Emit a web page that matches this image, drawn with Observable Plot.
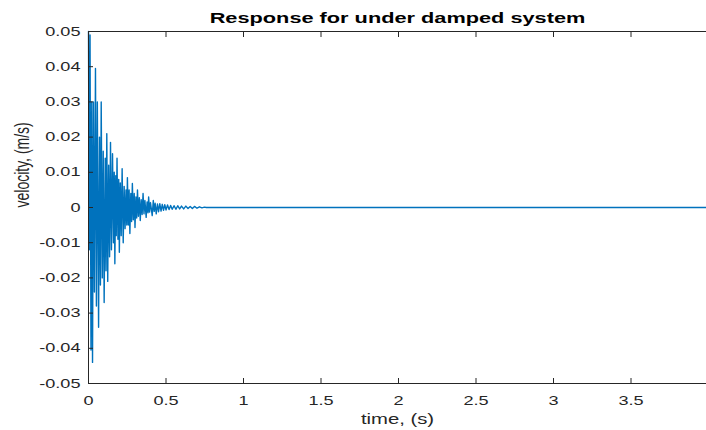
<!DOCTYPE html>
<html>
<head>
<meta charset="utf-8">
<script src="https://cdn.jsdelivr.net/npm/d3@7"></script>
<script src="https://cdn.jsdelivr.net/npm/@observablehq/plot@0.6"></script>
<style>
  html, body { margin: 0; padding: 0; background: #fff; }
  #chart svg { display: block; }
</style>
</head>
<body>
<div id="chart"></div>
<script>
const title = "Response for under damped system";
const xLabel = "time, (s)";
const yLabel = "velocity, (m/s)";
const xTicks = [0, 0.5, 1, 1.5, 2, 2.5, 3, 3.5];
const yTicks = [-0.05, -0.04, -0.03, -0.02, -0.01, 0, 0.01, 0.02, 0.03, 0.04, 0.05];

// time samples (s)
const time = [
  0.000, 0.005, 0.010, 0.016, 0.021, 0.026, 0.032, 0.038, 0.045, 0.051,
  0.057, 0.065, 0.071, 0.077, 0.082, 0.089, 0.095, 0.101, 0.108, 0.113,
  0.118, 0.124, 0.130, 0.136, 0.142, 0.148, 0.155, 0.161, 0.166, 0.170,
  0.176, 0.179, 0.184, 0.190, 0.195, 0.199, 0.205, 0.211, 0.217, 0.224,
  0.230, 0.236, 0.242, 0.247, 0.251, 0.257, 0.262, 0.267, 0.273, 0.278,
  0.283, 0.289, 0.295, 0.300, 0.306, 0.311, 0.316, 0.322, 0.328, 0.334,
  0.340, 0.346, 0.352, 0.358, 0.364, 0.372, 0.378, 0.384, 0.388, 0.394,
  0.400, 0.411, 0.418, 0.424, 0.430, 0.437, 0.445, 0.452, 0.460, 0.468,
  0.476, 0.484, 0.492, 0.500, 0.510, 0.520, 0.530, 0.540, 0.552, 0.564,
  0.576, 0.588, 0.600, 0.614, 0.628, 0.642, 0.656, 0.670, 0.684, 0.700,
  0.716, 0.732, 0.748, 0.760, 4.000
];
// velocity samples (m/s)
const velocity = [
  0.0500, -0.0120, 0.0490, -0.0405, 0.0300, -0.0440, 0.0300, -0.0240, 0.0395, -0.0280,
  0.0300, -0.0340, 0.0200, -0.0220, 0.0300, -0.0200, 0.0160, -0.0270, 0.0140, -0.0180,
  0.0210, -0.0210, 0.0120, -0.0140, 0.0185, -0.0120, 0.0153, -0.0100, 0.0100, -0.0160,
  0.0090, -0.0080, 0.0140, -0.0090, 0.0080, -0.0127, 0.0070, -0.0080, 0.0110, -0.0100,
  0.0060, -0.0060, 0.0050, -0.0050, 0.0085, -0.0050, 0.0050, -0.0074, 0.0040, -0.0040,
  0.0068, -0.0035, 0.0040, -0.0057, 0.0030, -0.0030, 0.0050, -0.0025, 0.0028, -0.0037,
  0.0022, -0.0020, 0.0040, -0.0018, 0.0020, -0.0028, 0.0016, -0.0015, 0.0030, -0.0013,
  0.0014, -0.0023, 0.0020, -0.0011, 0.0012, -0.0018, 0.0010, -0.0012, 0.0011, -0.0010,
  0.0009, -0.0008, 0.0008, -0.0007, 0.0007, -0.0006, 0.0006, -0.0005, 0.0005, -0.0005,
  0.0005, -0.0004, 0.0004, -0.0004, 0.0004, -0.0003, 0.0003, -0.0003, 0.0003, -0.0002,
  0.0002, -0.0001, 0.0001, 0.0000, 0.0000
];

const data = time.map((t, i) => ({t, v: velocity[i]}));
const axisColor = "#262626";
const fmtY = d => d === 0 ? "0" : d.toFixed(2);
const none = () => "";

const chart = Plot.plot({
  width: 706,
  height: 430,
  marginLeft: 88,
  marginRight: 0,
  marginTop: 31,
  marginBottom: 47,
  style: {fontFamily: "'Liberation Sans', Arial, sans-serif", fontSize: "12.5px", color: axisColor, background: "#fff"},
  x: {domain: [0, 4], range: [88, 708], axis: null},
  y: {domain: [-0.05, 0.05], axis: null},
  marks: [
    Plot.line(data, {x: "t", y: "v", stroke: "#0072BD", strokeWidth: 1.4}),
    Plot.frame({stroke: axisColor, strokeWidth: 1}),
    // inward ticks
    Plot.axisX(xTicks, {anchor: "bottom", tickSize: -5, tickFormat: none, label: null, stroke: axisColor}),
    Plot.axisX(xTicks, {anchor: "top", tickSize: -5, tickFormat: none, label: null, stroke: axisColor}),
    Plot.axisY(yTicks, {anchor: "left", tickSize: -5, tickFormat: none, label: null, stroke: axisColor}),
    // tick labels
    Plot.axisX(xTicks, {anchor: "bottom", tickSize: 0, tickPadding: 13, tickFormat: d => String(d), label: null, fontSize: 12.5, fill: axisColor}),
    Plot.axisY(yTicks, {anchor: "left", tickSize: 0, tickPadding: 8, tickFormat: fmtY, label: null, fontSize: 12.5, fill: axisColor}),
    // title and axis labels
    Plot.text([title], {frameAnchor: "top", dy: -19, fontSize: 15, fontWeight: "bold", fill: "#000", text: d => d}),
    Plot.text([xLabel], {frameAnchor: "bottom", dy: 40, fontSize: 14, fill: axisColor, text: d => d}),
    Plot.text([yLabel], {frameAnchor: "left", dx: -66, rotate: -90, fontSize: 14, fill: axisColor, text: d => d})
  ]
});
document.getElementById("chart").append(chart);

// the reference picture is stretched horizontally: widen each text about its anchor
const sx = 1.45;
const svgRect = chart.getBoundingClientRect();
chart.querySelectorAll("text").forEach(t => {
  if (!t.textContent) return;
  const r = t.getBoundingClientRect();
  const anchor = getComputedStyle(t).textAnchor;
  const rotated = /rotate/.test(t.getAttribute("transform") || "");
  let ax = r.left + r.width / 2;
  if (!rotated && anchor === "end") ax = r.right;
  if (!rotated && anchor === "start") ax = r.left;
  ax -= svgRect.left;
  const parent = t.parentNode;
  const m = parent.getCTM ? parent.getCTM() : null;
  const px = m ? (ax - m.e) / m.a : ax;
  const g = document.createElementNS("http://www.w3.org/2000/svg", "g");
  g.setAttribute("transform", `translate(${px},0) scale(${sx},1) translate(${-px},0)`);
  parent.insertBefore(g, t);
  g.appendChild(t);
});
</script>
</body>
</html>
